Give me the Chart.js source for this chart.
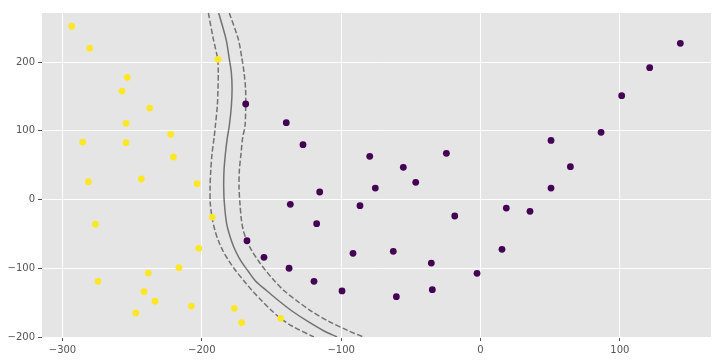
<!DOCTYPE html>
<html>
<head>
<meta charset="utf-8">
<script src="https://cdn.jsdelivr.net/npm/chart.js@4.4.1/dist/chart.umd.min.js"></script>
<style>
  html, body { margin: 0; padding: 0; background: #fff; }
  #wrap { width: 721px; height: 361px; }
</style>
</head>
<body>
<div id="wrap"><canvas id="svmChart"></canvas></div>
<script>
// class 1 (yellow) points
const yellowX = [-293.4, -280.5, -253.5, -257.3, -237.4, -254.4, -285.5, -254.4, -222.3, -220.4, -188.4,
  -281.4, -243.4, -203.4, -276.4, -192.5, -202.2, -216.4, -238.4, -274.5, -241.5, -233.6, -247.4, -207.5,
  -176.7, -171.4, -143.4];
const yellowY = [252, 220, 177.7, 157.8, 133, 110.8, 83.6, 82.6, 94.8, 61.8, 203.9,
  25.9, 29.8, 23, -36, -25.5, -71, -99.2, -107, -119, -134, -148, -165, -155,
  -158.3, -179, -172.9];

// class 0 (purple) points
const purpleX = [-168.5, -139.4, -127.4, -79.5, -55.4, -24.5, -46.5, -115.4, -136.5, -86.5, -75.5, -117.6,
  -18.5, -167.6, -155.4, -91.5, -62.6, -35.3, -137.4, -119.5, -99.4, -60.4, -34.6, 50.6, 64.5, 86.5,
  101.3, 121.4, 143.4, 50.6, 18.5, 35.5, 15.4, -2.5];
const purpleY = [138.9, 111.7, 79.7, 62.8, 46.8, 67.2, 25, 10.9, -7, -9, 16.7, -35.2,
  -24, -60, -84.1, -78.3, -75.4, -92.4, -100, -119, -133, -141.3, -131.2, 86, 47.7, 97.7,
  151, 191.7, 227.2, 16.7, -12.4, -17.2, -72.5, -107.4];

// decision boundary (level 0)
const boundX = [-187.9, -182.6, -180.4, -178.8, -178.3, -178.8, -180.3, -181.7, -183.1, -184.1, -184.3, -183.8,
  -182.1, -178.7, -175.8, -171.9, -166.8, -161.5, -153.2, -144.6, -135.3, -124.5, -112.3, -103];
const boundY = [271.3, 233, 206, 184.4, 160.7, 136, 106.9, 89.9, 66.2, 41.5, 17.2, -6.5,
  -36.1, -60.4, -74.9, -89.5, -104, -118.5, -133.1, -147.6, -162.2, -176.7, -191.3, -200];

// margin -1 (left)
const marginLoX = [-195.3, -191.7, -188.6, -188.2, -188.4, -188.9, -190.3, -191.2, -192.7, -193.6, -194.1, -193.9,
  -192.7, -190.5, -188, -184.8, -180.5, -175.5, -169.7, -163.6, -156.8, -149.6, -143.4, -135.3, -119.6];
const marginLoY = [271.3, 233, 204, 184.4, 160.7, 136, 106.9, 89.9, 66.2, 41.5, 17.2, -6.5,
  -25.5, -45.8, -60.4, -74.9, -89.5, -104, -118.5, -133.1, -147.6, -162.2, -172.9, -184, -200];

// margin +1 (right)
const marginHiX = [-180.3, -173.8, -171.3, -169.7, -168.6, -168.5, -169, -170.7, -171.9, -173.1, -173.3, -172.6,
  -171.5, -170.1, -167.6, -164, -159.3, -153.9, -147.8, -140.7, -131.6, -121.6, -109.4, -94.4, -84];
const marginHiY = [271.3, 233, 206, 184.4, 160.7, 138.5, 106.9, 89.9, 66.2, 41.5, 17.2, -7,
  -31.3, -45.8, -60.4, -74.9, -89.5, -104, -118.5, -133.1, -147.6, -162.2, -176.7, -191.3, -200];

const xTicks = [-300, -200, -100, 0, 100];
const yTicks = [-200, -100, 0, 100, 200];

function toPoints(xs, ys) {
  return xs.map((x, i) => ({ x: x, y: ys[i] }));
}

// nen xam kieu ggplot
const bgPlugin = {
  id: "plotBg",
  beforeDraw(chart) {
    const a = chart.chartArea;
    const c = chart.ctx;
    c.save();
    c.fillStyle = "#E5E5E5";
    c.fillRect(a.left, a.top, a.right - a.left, a.bottom - a.top);
    c.restore();
  }
};

const lineStyle = {
  type: "line",
  showLine: true,
  pointRadius: 0,
  borderColor: "rgba(0,0,0,0.5)",
  borderWidth: 1.5,
  tension: 0.3,
  fill: false
};

new Chart(document.getElementById("svmChart"), {
  type: "scatter",
  data: {
    datasets: [
      {
        data: toPoints(yellowX, yellowY),
        backgroundColor: "#fde725",
        borderWidth: 0,
        pointRadius: 3.4
      },
      {
        data: toPoints(purpleX, purpleY),
        backgroundColor: "#440154",
        borderWidth: 0,
        pointRadius: 3.4
      },
      Object.assign({ data: toPoints(boundX, boundY) }, lineStyle),
      Object.assign({ data: toPoints(marginLoX, marginLoY), borderDash: [5.5, 2.4] }, lineStyle),
      Object.assign({ data: toPoints(marginHiX, marginHiY), borderDash: [5.5, 2.4] }, lineStyle)
    ]
  },
  options: {
    responsive: true,
    maintainAspectRatio: false,
    animation: false,
    layout: { padding: { top: 13, right: 10, left: 0, bottom: 0 } },
    plugins: {
      legend: { display: false },
      tooltip: { enabled: false }
    },
    scales: {
      x: {
        type: "linear",
        min: -314.7,
        max: 165.4,
        afterBuildTicks: (axis) => { axis.ticks = xTicks.map(v => ({ value: v })); },
        afterFit: (axis) => { axis.height = 24; },
        border: { display: false },
        grid: { color: "#ffffff", lineWidth: 1, tickColor: "#555555", tickLength: 4 },
        ticks: {
          color: "#555555",
          padding: 3,
          maxRotation: 0,
          font: { family: "DejaVu Sans", size: 10 },
          callback: (v) => String(v).replace("-", "\u2212")
        }
      },
      y: {
        type: "linear",
        min: -200,
        max: 271.3,
        afterBuildTicks: (axis) => { axis.ticks = yTicks.map(v => ({ value: v })); },
        afterFit: (axis) => { axis.width = 42; },
        border: { display: false },
        grid: { color: "#ffffff", lineWidth: 1, tickColor: "#555555", tickLength: 4 },
        ticks: {
          color: "#555555",
          padding: 3,
          font: { family: "DejaVu Sans", size: 10 },
          callback: (v) => String(v).replace("-", "\u2212")
        }
      }
    }
  },
  plugins: [bgPlugin]
});
</script>
</body>
</html>
